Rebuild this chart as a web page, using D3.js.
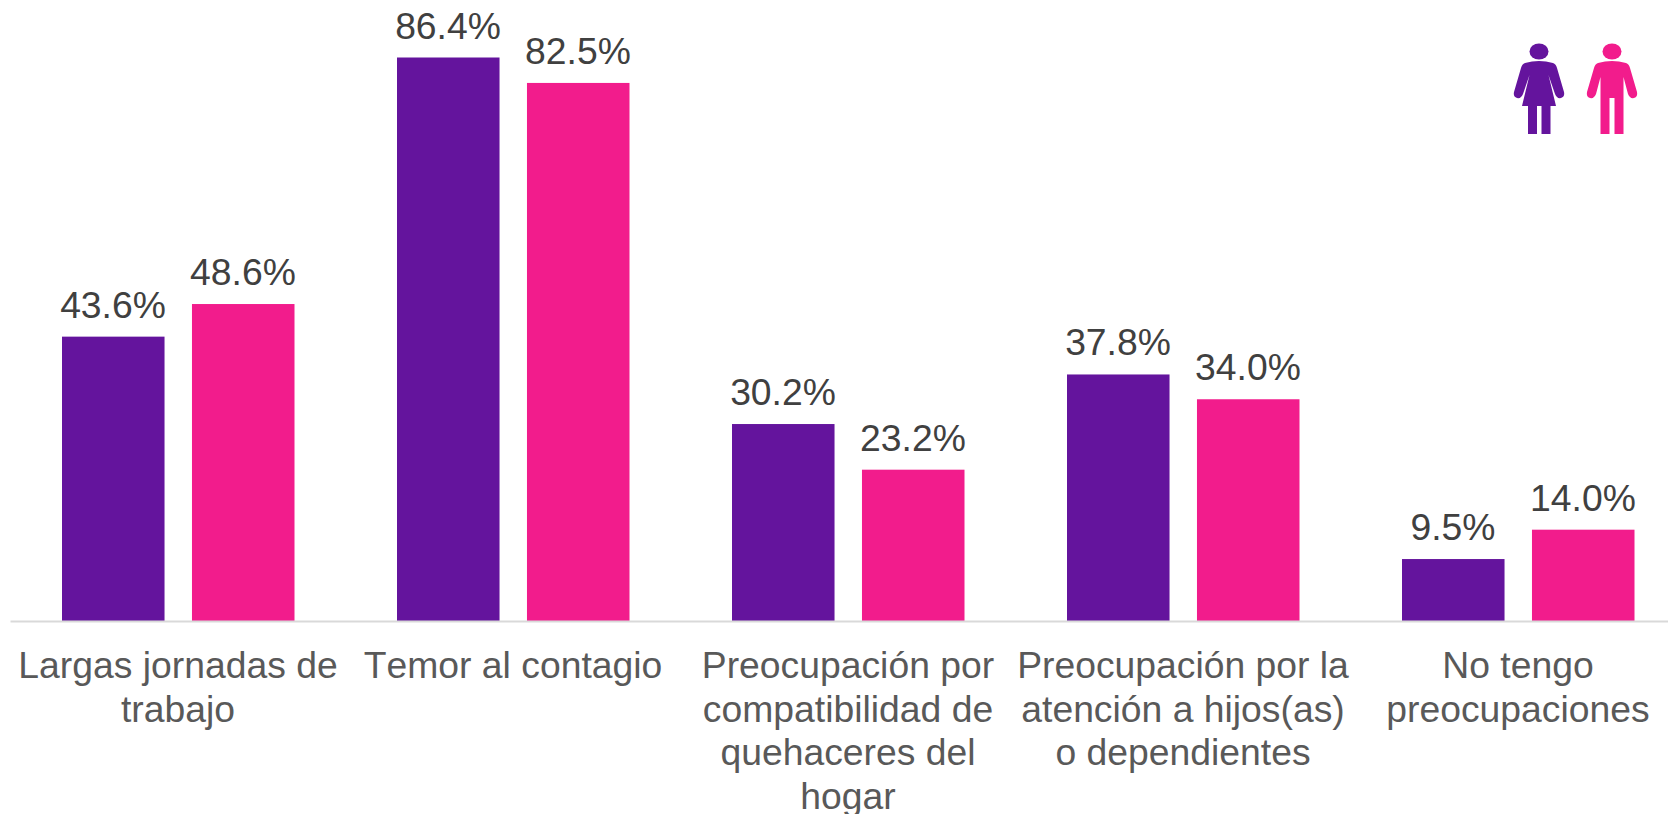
<!DOCTYPE html>
<html><head><meta charset="utf-8">
<script src="https://cdn.jsdelivr.net/npm/d3@7/dist/d3.min.js"></script>
<style>html,body{margin:0;padding:0;background:#fff;overflow:hidden}svg{display:block}text{font-family:"Liberation Sans",Arial,sans-serif;font-kerning:none}</style>
</head><body><svg id="c" width="1668" height="814"></svg>
<script>
const categories=[["Largas jornadas de","trabajo"],["Temor al contagio"],["Preocupación por","compatibilidad de","quehaceres del","hogar"],["Preocupación por la","atención a hijos(as)","o dependientes"],["No tengo","preocupaciones"]];
const mujeres=[43.6,86.4,30.2,37.8,9.5];
const hombres=[48.6,82.5,23.2,34.0,14.0];
const seriesNames=["Mujeres","Hombres"];
const colors=["#64149d","#f21c8c"];
const svg=d3.select("#c");
const idx=d3.range(categories.length);
const x=d3.scaleBand().domain(idx).range([10.5,1685.5]).paddingInner(0).paddingOuter(0);
const x1=d3.scaleBand().domain([0,1]).range([51.5,283.5]).paddingInner(0.215);
const y=d3.scaleLinear().domain([0,86.4]).range([621,57.5]);
[mujeres,hombres].forEach((s,si)=>{
  const g=svg.append("g");
  g.selectAll("rect").data(s).join("rect")
   .attr("x",(d,i)=>x(i)+x1(si)).attr("y",d=>y(d))
   .attr("width",x1.bandwidth()+0.5).attr("height",d=>y(0)-y(d)).attr("fill",colors[si]);
  g.selectAll("text").data(s).join("text")
   .attr("x",(d,i)=>x(i)+x1(si)+x1.bandwidth()/2).attr("y",d=>y(d)-19)
   .attr("text-anchor","middle").attr("font-size",37.3).attr("fill","#404040")
   .text(d=>d.toFixed(1)+"%");
});
svg.append("line").attr("x1",10.5).attr("x2",1668).attr("y1",y(0)+0.5).attr("y2",y(0)+0.5).attr("stroke","#d9d9d9").attr("stroke-width",2);
const lab=svg.append("g");
categories.forEach((ls,i)=>{
  const t=lab.append("text").attr("text-anchor","middle").attr("font-size",37.3).attr("fill","#595959");
  ls.forEach((l,k)=>t.append("tspan").attr("x",x(i)+x.bandwidth()/2).attr("y",678+k*43.6).text(l));
});
// pictograms
const arms="M-14,-34 Q-7,-36 0,-36 Q7,-36 14,-34 Q17,-33 18,-29 L25,-5 Q26,0 22,1 Q18,2 16,-3 L9.5,-22 ";
function womanIcon(g,c){
  g.append("ellipse").attr("cx",0).attr("cy",-45.5).attr("rx",9.5).attr("ry",8).attr("fill",c);
  g.append("path").attr("fill",c).attr("d",arms+"L17,9 L11.5,9 L11.5,37 L2.5,37 L2.5,9 L-2,9 L-2,37 L-11,37 L-11,9 L-17,9 L-9.5,-22 L-16,-3 Q-18,2 -22,1 Q-26,0 -25,-5 L-18,-29 Q-17,-33 -14,-34 Z");
}
function manIcon(g,c){
  g.append("ellipse").attr("cx",0).attr("cy",-45.5).attr("rx",9.5).attr("ry",8).attr("fill",c);
  g.append("path").attr("fill",c).attr("d",arms.replace("L9.5,-22","L11.5,-20")+"L11.5,37 L2.5,37 L2.5,1 L-2.5,1 L-2.5,37 L-11.5,37 L-11.5,-20 L-16,-3 Q-18,2 -22,1 Q-26,0 -25,-5 L-18,-29 Q-17,-33 -14,-34 Z");
}
womanIcon(svg.append("g").attr("transform","translate(1539,97)"),colors[0]);
manIcon(svg.append("g").attr("transform","translate(1612,97)"),colors[1]);
</script></body></html>
